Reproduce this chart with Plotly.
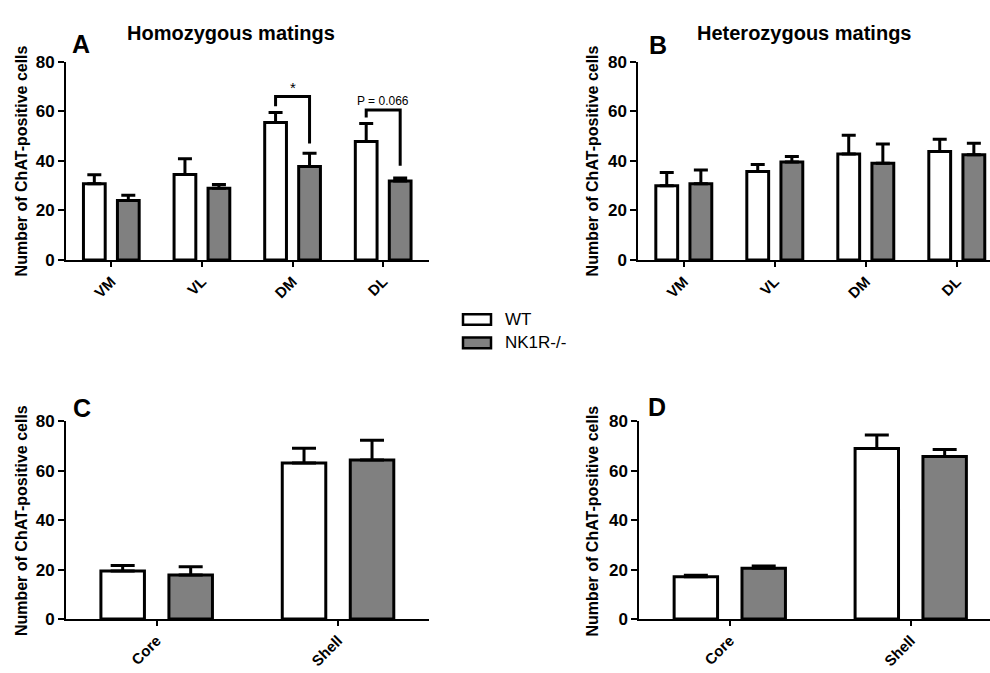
import plotly.graph_objects as go

# ---------------- data ----------------
regions = ["VM", "VL", "DM", "DL"]
accumbens = ["Core", "Shell"]

homo_wt = [30.8, 34.5, 55.5, 47.8]
homo_wt_err = [3.6, 6.4, 4.0, 7.3]
homo_ko = [24.0, 29.0, 37.7, 31.9]
homo_ko_err = [2.1, 1.5, 5.4, 1.2]

hetero_wt = [30.0, 35.7, 42.8, 43.8]
hetero_wt_err = [5.3, 2.8, 7.5, 4.9]
hetero_ko = [30.8, 39.6, 39.0, 42.5]
hetero_ko_err = [5.5, 2.2, 7.8, 4.6]

homo_core_shell_wt = [19.4, 63.1]
homo_core_shell_wt_err = [2.2, 6.0]
homo_core_shell_ko = [17.8, 64.3]
homo_core_shell_ko_err = [3.3, 8.0]

hetero_core_shell_wt = [17.1, 69.0]
hetero_core_shell_wt_err = [0.6, 5.5]
hetero_core_shell_ko = [20.5, 65.8]
hetero_core_shell_ko_err = [0.9, 2.8]

series_names = ["WT", "NK1R-/-"]
panel_letters = ["A", "B", "C", "D"]
panel_titles = ["Homozygous matings", "Heterozygous matings"]
y_title = "Number of ChAT-positive cells"

# significance brackets in panel A
sig_categories = ["DM", "DL"]
sig_levels = [66.0, 60.5]
sig_left_ends = [62.0, 57.5]
sig_right_ends = [47.0, 38.0]
sig_labels = ["*", "P = 0.066"]
sig_label_y = [69.5, 64.2]

# ---------------- style ----------------
W, H = 990, 673
FONT = "Liberation Sans, Arial, sans-serif"
GRAY = "#808080"
HALF = 0.1875  # offset of bar centre from category centre


def px(x):
    return x / W


def py(y):
    return 1 - y / H


fig = go.Figure()


def add_pair(cats, wt, wt_err, ko, ko_err, xa, ya, capw):
    for name, vals, errs, fill in [
        (series_names[0], wt, wt_err, "white"),
        (series_names[1], ko, ko_err, GRAY),
    ]:
        fig.add_trace(go.Bar(
            x=cats, y=vals, name=name, xaxis=xa, yaxis=ya,
            marker=dict(color=fill, line=dict(color="black", width=3)),
            error_y=dict(type="data", symmetric=False, array=errs,
                         arrayminus=[0] * len(errs), color="black",
                         thickness=3, width=capw),
            showlegend=False,
        ))


add_pair(regions, homo_wt, homo_wt_err, homo_ko, homo_ko_err, "x", "y", 7)
add_pair(regions, hetero_wt, hetero_wt_err, hetero_ko, hetero_ko_err, "x2", "y2", 7)
add_pair(accumbens, homo_core_shell_wt, homo_core_shell_wt_err,
         homo_core_shell_ko, homo_core_shell_ko_err, "x3", "y3", 12)
add_pair(accumbens, hetero_core_shell_wt, hetero_core_shell_wt_err,
         hetero_core_shell_ko, hetero_core_shell_ko_err, "x4", "y4", 12)

xcommon = dict(showline=True, linecolor="black", linewidth=2, ticks="outside",
               ticklen=5, tickwidth=2, tickcolor="black", tickangle=-45,
               tickfont=dict(family=FONT, size=15, color="black", weight="bold"),
               showgrid=False, zeroline=False, fixedrange=True)
ycommon = dict(showline=True, linecolor="black", linewidth=2, ticks="outside",
               ticklen=6, tickwidth=2, tickcolor="black", range=[0, 80],
               tick0=0, dtick=20,
               tickfont=dict(family=FONT, size=17, color="black", weight="bold"),
               showgrid=False, zeroline=False, fixedrange=True)

top_dom = [py(258.3), py(54.3)]
bot_dom = [py(627.7), py(424.3)]

fig.update_layout(
    width=W, height=H,
    margin=dict(l=0, r=0, t=0, b=0),
    paper_bgcolor="white", plot_bgcolor="white",
    barmode="group", bargap=0.25, bargroupgap=0.36,
    showlegend=False,
    xaxis=dict(xcommon, domain=[px(66), px(428.5)], range=[-0.5, 3.5], anchor="y"),
    yaxis=dict(ycommon, domain=top_dom, anchor="x"),
    xaxis2=dict(xcommon, domain=[px(638.3), 1], range=[-0.5, 3.365], anchor="y2"),
    yaxis2=dict(ycommon, domain=top_dom, anchor="x2"),
    xaxis3=dict(xcommon, domain=[px(66), px(428.7)], range=[-0.5, 1.5], anchor="y3"),
    yaxis3=dict(ycommon, domain=bot_dom, anchor="x3"),
    xaxis4=dict(xcommon, domain=[px(639.3), 1], range=[-0.5, 1.438], anchor="y4"),
    yaxis4=dict(ycommon, domain=bot_dom, anchor="x4"),
)

annotations = []
shapes = []

# panel titles
for txt, cx in zip(panel_titles, [231, 803.5]):
    annotations.append(dict(text=txt, x=px(cx), y=py(25), xref="paper", yref="paper",
                            xanchor="center", yanchor="middle", showarrow=False,
                            font=dict(family=FONT, size=20, color="black", weight="bold")))
# panel letters
for txt, cx, cy in zip(panel_letters, [81, 658, 82, 657], [36, 37, 411, 410]):
    annotations.append(dict(text=txt, x=px(cx), y=py(cy), xref="paper", yref="paper",
                            xanchor="center", yanchor="middle", showarrow=False,
                            font=dict(family=FONT, size=25, color="black", weight="bold")))
# y titles
for cx, cy in [(21.5, 156.3), (592.5, 156.3), (21, 527), (592.5, 527)]:
    annotations.append(dict(text=y_title, x=px(cx), y=py(cy), xref="paper", yref="paper",
                            xanchor="center", yanchor="middle", textangle=-90, showarrow=False,
                            font=dict(family=FONT, size=16, color="black", weight="bold")))

# legend
for name, fill, y0, y1 in [(series_names[0], "white", 314, 325),
                           (series_names[1], GRAY, 338, 349)]:
    shapes.append(dict(type="rect", xref="paper", yref="paper",
                       x0=px(463), x1=px(491), y0=py(y1), y1=py(y0),
                       fillcolor=fill, line=dict(color="black", width=2.5)))
    annotations.append(dict(text=name, x=px(503), y=py((y0 + y1) / 2), xref="paper", yref="paper",
                            xanchor="left", yanchor="middle", showarrow=False,
                            font=dict(family=FONT, size=17, color="black")))

# significance brackets
for cat, lvl, le, re_, lab, ly in zip(sig_categories, sig_levels, sig_left_ends,
                                      sig_right_ends, sig_labels, sig_label_y):
    ci = regions.index(cat)
    xl, xr = ci - HALF, ci + HALF
    shapes.append(dict(type="path", xref="x", yref="y",
                       path=f"M {xl} {le} L {xl} {lvl} L {xr} {lvl} L {xr} {re_}",
                       line=dict(color="black", width=3)))
    annotations.append(dict(text=lab, x=ci, y=ly, xref="x", yref="y",
                            xanchor="center", yanchor="middle", showarrow=False,
                            font=dict(family=FONT, size=15 if lab == "*" else 12, color="black")))

fig.update_layout(annotations=annotations, shapes=shapes)
fig.write_html("out.html")
